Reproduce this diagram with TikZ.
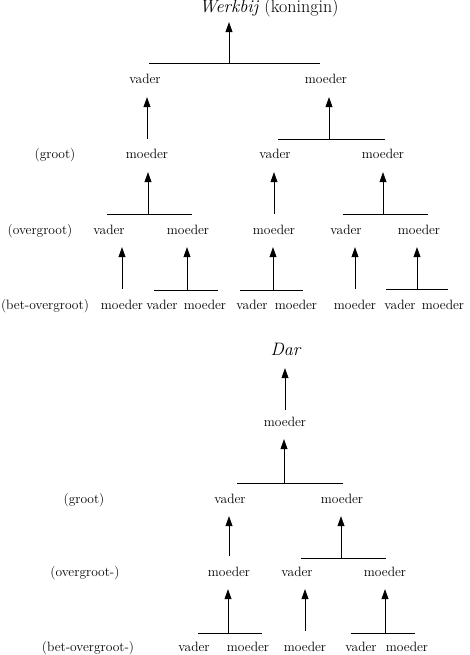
\documentclass[tikz,border=0pt]{standalone}
\usetikzlibrary{arrows.meta}

\begin{document}
\begin{tikzpicture}[
    x=1pt, y=-1pt, font=\fontsize{13.5}{15}\selectfont,
    lbl/.style={inner sep=1pt, text height=9pt, text depth=3pt},
    head/.style={inner sep=1pt, text height=12pt, text depth=4pt, font=\fontsize{18}{20}\selectfont},
    arr/.style={-{Triangle[length=10pt,width=7pt]}, line width=0.7pt, shorten >=9pt},
    up/.style={arr, shorten <=10pt},
    bar/.style={line width=0.8pt},
]
\useasboundingbox (0,0) rectangle (470,655);

\node[head] (wb) at (269,9) {\textit{Werkbij} (koningin)};
\node[lbl] (v1) at (145,81) {vader};
\node[lbl] (m1) at (326,81) {moeder};
\node[lbl] (lg1) at (55,156) {(groot)};
\node[lbl] (g1) at (147,156) {moeder};
\node[lbl] (g2) at (275,156) {vader};
\node[lbl] (g3) at (383,156) {moeder};
\node[lbl] (lo1) at (40,231) {(overgroot)};
\node[lbl] (o1) at (109,231) {vader};
\node[lbl] (o2) at (188,231) {moeder};
\node[lbl] (o3) at (274,231) {moeder};
\node[lbl] (o4) at (346,231) {vader};
\node[lbl] (o5) at (419,231) {moeder};
\node[lbl] (lb1) at (45,306) {(bet-overgroot)};
\node[lbl] (b1) at (122,306) {moeder};
\node[lbl] (b2) at (162,306) {vader};
\node[lbl] (b3) at (205,306) {moeder};
\node[lbl] (b4) at (252,306) {vader};
\node[lbl] (b5) at (296,306) {moeder};
\node[lbl] (b6) at (355,306) {moeder};
\node[lbl] (b7) at (400,306) {vader};
\node[lbl] (b8) at (443,306) {moeder};

\coordinate (k0) at (229,63);
\coordinate (k1) at (329,139);
\coordinate (k2) at (148,214);
\coordinate (k3) at (383,214);
\coordinate (k4) at (187,290);
\coordinate (k5) at (273,290);
\coordinate (k6) at (417,289);

\draw[bar] (149,63) -- (320,63);
\draw[bar] (278,139) -- (385,139);
\draw[bar] (107,214) -- (192,214);
\draw[bar] (343,214) -- (428,214);
\draw[bar] (154,290) -- (218,290);
\draw[bar] (240,290) -- (303,290);
\draw[bar] (386,289) -- (448,289);

\draw[arr, shorten >=4pt] (k0) -- (k0 |- wb.south);
\draw[up] (g1.north) -- (g1.north |- v1.south);
\draw[arr] (k1) -- (k1 |- m1.south);
\draw[arr] (k2) -- (k2 |- g1.south);
\draw[up] (o3.north) -- (o3.north |- g2.south);
\draw[arr] (k3) -- (k3 |- g3.south);
\draw[up] (b1.north) -- (b1.north |- o1.south);
\draw[arr] (k4) -- (k4 |- o2.south);
\draw[arr] (k5) -- (k5 |- o3.south);
\draw[up] (b6.north) -- (b6.north |- o4.south);
\draw[arr] (k6) -- (k6 |- o5.south);

\node[head] (dar) at (286,351) {\textit{Dar}};
\node[lbl] (dm) at (285,423) {moeder};
\node[lbl] (lg2) at (84,500) {(groot)};
\node[lbl] (dg1) at (230,500) {vader};
\node[lbl] (dg2) at (342,500) {moeder};
\node[lbl] (lo2) at (85,573) {(overgroot-)};
\node[lbl] (do1) at (229,573) {moeder};
\node[lbl] (do2) at (297,573) {vader};
\node[lbl] (do3) at (385,573) {moeder};
\node[lbl] (lb2) at (88,648) {(bet-overgroot-)};
\node[lbl] (db1) at (194,648) {vader};
\node[lbl] (db2) at (248,648) {moeder};
\node[lbl] (db3) at (305,648) {moeder};
\node[lbl] (db4) at (361,648) {vader};
\node[lbl] (db5) at (407,648) {moeder};

\coordinate (d0) at (284,483);
\coordinate (d1) at (341,558);
\coordinate (d2) at (228,633);
\coordinate (d3) at (385,633);

\draw[bar] (237,483) -- (343,483);
\draw[bar] (301,558) -- (386,558);
\draw[bar] (198,633) -- (262,633);
\draw[bar] (351,633) -- (415,633);

\draw[up, shorten <=6pt, shorten >=8pt] (dm.north) -- (dm.north |- dar.south);
\draw[arr] (d0) -- (d0 |- dm.south);
\draw[up] (do1.north) -- (do1.north |- dg1.south);
\draw[arr] (d1) -- (d1 |- dg2.south);
\draw[arr] (d2) -- (d2 |- do1.south);
\draw[up] (db3.north) -- (db3.north |- do2.south);
\draw[arr] (d3) -- (d3 |- do3.south);
\end{tikzpicture}
\end{document}
